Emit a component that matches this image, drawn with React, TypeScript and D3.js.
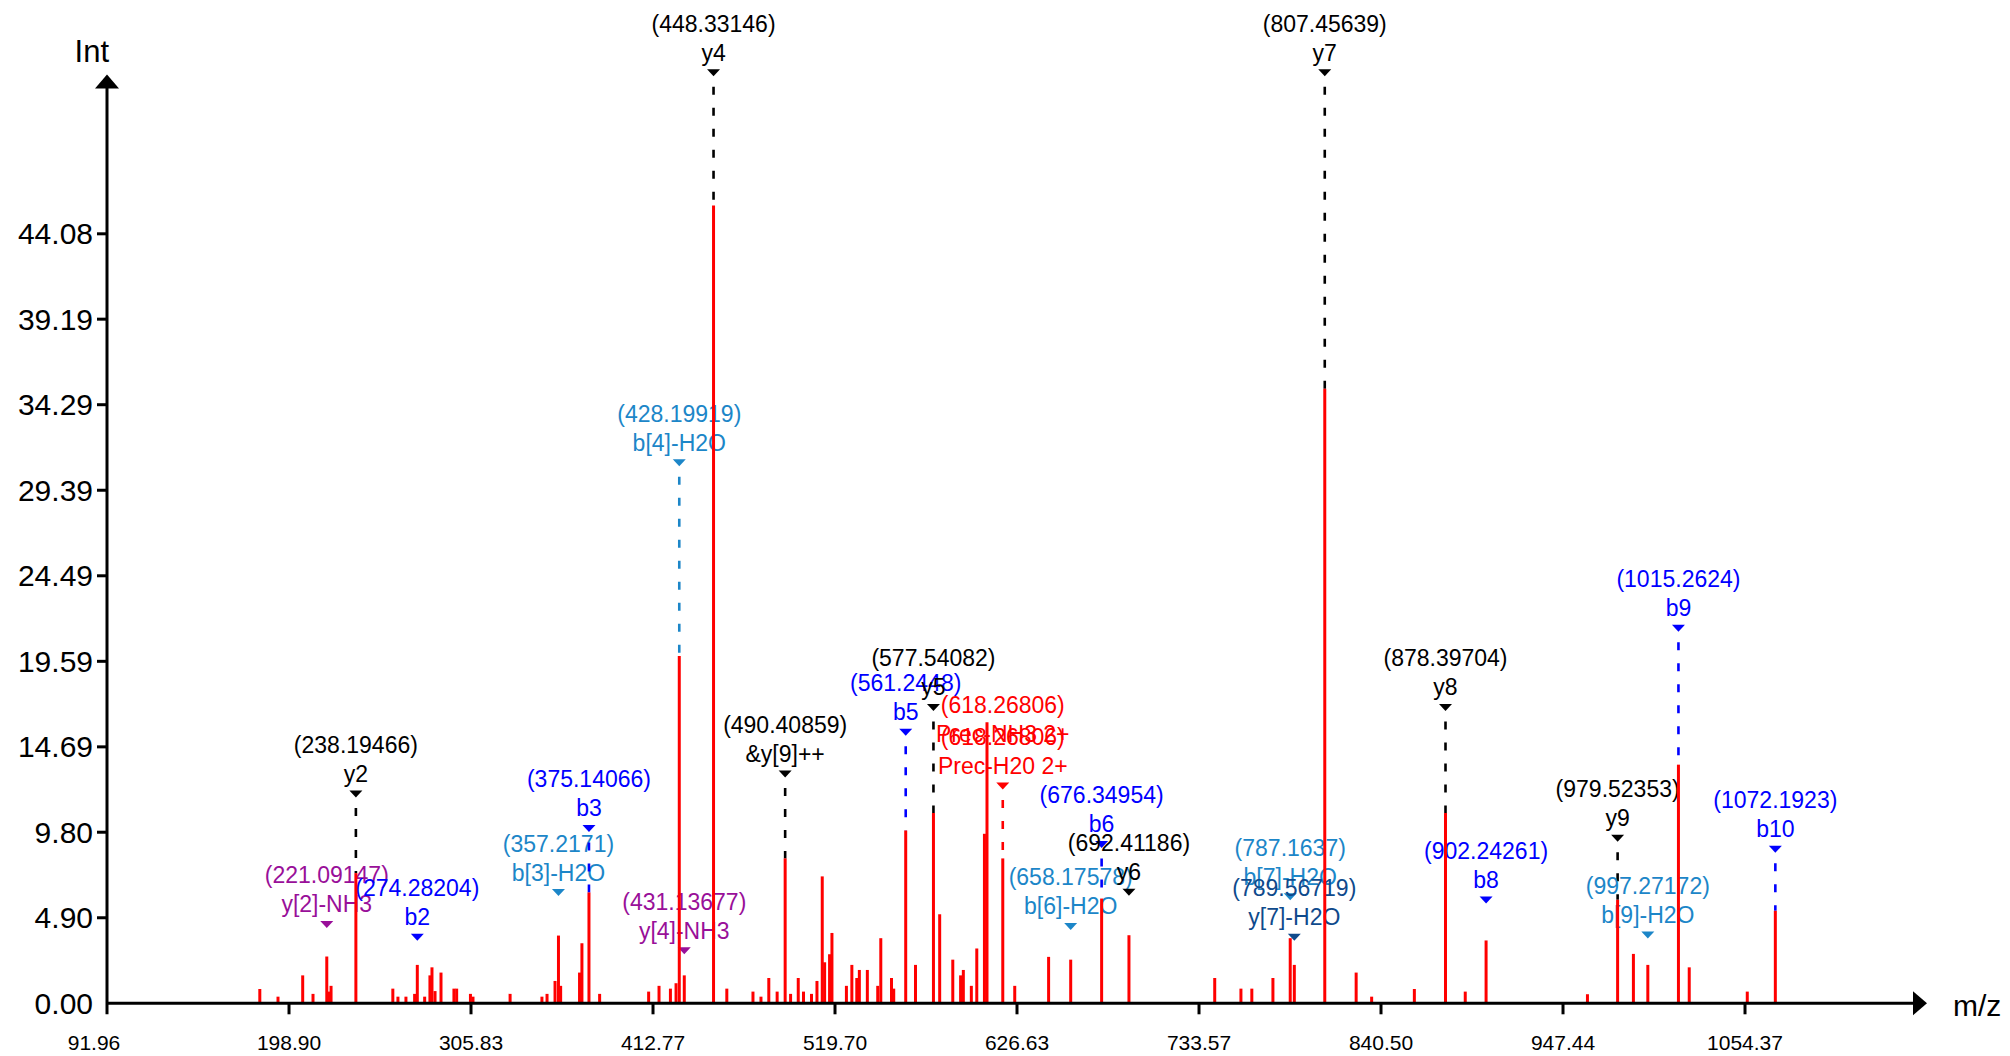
import React from "react";
import * as d3 from "d3";

// ---- data ----
const peakMz = [181.74, 192.43, 206.94, 213.0, 221.09, 222.4, 223.6, 238.19, 259.9, 262.9, 267.6, 272.7, 274.28, 278.6, 281.7, 282.9, 284.7, 288.2, 295.8, 297.4, 305.5, 307.0, 328.8, 347.5, 350.5, 355.2, 357.22, 358.5, 369.6, 371.0, 375.14, 381.4, 410.2, 416.3, 423.0, 426.3, 428.2, 431.14, 448.33, 456.13, 471.5, 476.2, 480.8, 485.7, 490.41, 493.6, 498.1, 501.2, 505.9, 509.1, 512.2, 513.6, 516.5, 517.9, 526.4, 529.6, 532.5, 534.0, 538.7, 544.8, 546.6, 552.9, 554.2, 561.24, 567.0, 577.54, 581.2, 588.9, 593.5, 595.1, 599.8, 603.0, 607.5, 609.0, 618.27, 625.3, 645.2, 658.18, 676.35, 692.41, 742.8, 758.2, 764.6, 777.0, 787.16, 789.57, 807.46, 825.9, 835.0, 860.1, 878.4, 890.0, 902.24, 961.8, 979.52, 988.8, 997.27, 1015.26, 1021.6, 1055.7, 1072.19];
const peakIntensity = [0.82, 0.38, 1.6, 0.54, 2.68, 0.67, 1.0, 7.46, 0.84, 0.38, 0.38, 0.54, 2.2, 0.38, 1.6, 2.06, 0.7, 1.76, 0.84, 0.84, 0.54, 0.38, 0.54, 0.38, 0.54, 1.28, 3.88, 1.0, 1.76, 3.44, 6.35, 0.54, 0.67, 1.0, 0.84, 1.15, 19.9, 1.6, 45.7, 0.84, 0.67, 0.38, 1.45, 0.67, 8.3, 0.54, 1.45, 0.67, 0.54, 1.28, 7.27, 2.35, 2.81, 4.03, 1.0, 2.2, 1.45, 1.91, 1.91, 1.0, 3.73, 1.45, 0.84, 9.9, 2.2, 10.9, 5.1, 2.5, 1.6, 1.91, 1.0, 3.14, 9.71, 16.1, 8.3, 1.0, 2.66, 2.5, 6.0, 3.9, 1.45, 0.84, 0.84, 1.45, 3.73, 2.2, 35.2, 1.76, 0.38, 0.82, 10.9, 0.67, 3.6, 0.52, 5.93, 2.83, 2.2, 13.67, 2.06, 0.67, 5.3];

const annLabel = ["y[2]-NH3", "y2", "b2", "b[3]-H2O", "b3", "b[4]-H2O", "y[4]-NH3", "y4", "&y[9]++", "b5", "y5", "Prec-NH3 2+", "Prec-H20 2+", "b[6]-H2O", "b6", "y6", "b[7]-H2O", "y[7]-H2O", "y7", "y8", "b8", "y9", "b[9]-H2O", "b9", "b10"];
const annMzText = ["221.09147", "238.19466", "274.28204", "357.2171", "375.14066", "428.19919", "431.13677", "448.33146", "490.40859", "561.2448", "577.54082", "618.26806", "618.26806", "658.17578", "676.34954", "692.41186", "787.1637", "789.56719", "807.45639", "878.39704", "902.24261", "979.52353", "997.27172", "1015.2624", "1072.1923"];
const annType = ["yNH3", "y", "b", "bH2O", "b", "bH2O", "yNH3", "y", "y", "b", "y", "prec", "prec", "bH2O", "b", "y", "bH2O", "yH2O", "y", "y", "b", "y", "bH2O", "b", "b"];
// intensity level at which each annotation marker sits
const annMarkerLevel = [4.52, 11.99, 3.78, 6.34, 10.02, 30.96, 3.01, 53.3, 13.13, 15.52, 16.95, 14.3, 12.45, 4.4, 9.1, 6.36, 6.1, 3.78, 53.3, 16.95, 5.92, 9.45, 3.91, 21.48, 8.82];

const xTickLabels = ["91.96", "198.90", "305.83", "412.77", "519.70", "626.63", "733.57", "840.50", "947.44", "1054.37"];
const yTickLabels = ["0.00", "4.90", "9.80", "14.69", "19.59", "24.49", "29.39", "34.29", "39.19", "44.08"];

const typeColor: Record<string, string> = {
  y: "#000000",
  b: "#0000ff",
  bH2O: "#1c86c8",
  yNH3: "#990f99",
  yH2O: "#0f4a8c",
  prec: "#ff0000",
};

const FONT = "'Liberation Sans', Arial, Helvetica, sans-serif";

export default function App() {
  const W = 2010;
  const H = 1056;
  const x = d3.scaleLinear().domain([91.96, 1161.3]).range([107, 1927]);
  const y = d3.scaleLinear().domain([0, 53.2]).range([1003.3, 74.6]);
  const x0 = x(91.96);
  const y0 = y(0);
  const xEnd = x(1161.3);
  const yTop = y(53.2);

  const peaks = peakMz.map((m, i) => ({ mz: m, v: peakIntensity[i] }));

  const anns = annLabel.map((lab, i) => {
    const mz = parseFloat(annMzText[i]);
    let best = peaks[0];
    peaks.forEach((p) => {
      if (Math.abs(p.mz - mz) < Math.abs(best.mz - mz)) best = p;
    });
    const shared = annMzText.some(
      (t, j) => j !== i && t === annMzText[i] && annMarkerLevel[j] < annMarkerLevel[i]
    );
    return {
      lab,
      mzText: annMzText[i],
      mz,
      v: best.v,
      level: annMarkerLevel[i],
      color: typeColor[annType[i]],
      showMarker: !shared,
    };
  });

  return (
    <div style={{ position: "absolute", left: 0, top: 0 }}>
      <svg width={W} height={H} viewBox={`0 0 ${W} ${H}`} style={{ display: "block", background: "#fff" }}>
        <rect x={0} y={0} width={W} height={H} fill="#ffffff" />
        {/* annotations */}
        <g fontFamily={FONT} fontSize={23} textAnchor="middle">
          {anns.map((a, i) => {
            const cx = x(a.mz);
            const ty = y(a.level);
            const top = y(a.v);
            const drawLine = a.showMarker && top - ty > 50;
            return (
              <g key={i}>
                {drawLine && (
                  <line
                    x1={cx}
                    x2={cx}
                    y1={ty + 14}
                    y2={top}
                    stroke={a.color}
                    strokeWidth={2.6}
                    strokeDasharray="8 13"
                  />
                )}
                {a.showMarker && (
                  <path
                    d={`M${cx - 6.5},${ty - 3.5}L${cx + 6.5},${ty - 3.5}L${cx},${ty + 3.5}Z`}
                    fill={a.color}
                  />
                )}
                <text x={cx} y={ty - 41} fill={a.color}>{`(${a.mzText})`}</text>
                <text x={cx} y={ty - 12} fill={a.color}>{a.lab}</text>
              </g>
            );
          })}
        </g>
        {/* peaks */}
        <g stroke="#ff0000" strokeWidth={3}>
          {peaks.map((p, i) => (
            <line key={i} x1={x(p.mz)} x2={x(p.mz)} y1={y0} y2={y(p.v)} />
          ))}
        </g>
        {/* axes */}
        <g stroke="#000" strokeWidth={3}>
          <line x1={x0} x2={x0} y1={y0 + 11} y2={yTop + 10} />
          <line x1={x0} x2={xEnd - 10} y1={y0} y2={y0} />
          {yTickLabels.slice(1).map((t, i) => (
            <line key={"yt" + i} x1={x0 - 10} x2={x0} y1={y(parseFloat(t))} y2={y(parseFloat(t))} />
          ))}
          {xTickLabels.slice(1).map((t, i) => (
            <line key={"xt" + i} x1={x(parseFloat(t))} x2={x(parseFloat(t))} y1={y0} y2={y0 + 11} />
          ))}
        </g>
        <path d={`M${x0},${yTop}L${x0 - 12},${yTop + 14}L${x0 + 12},${yTop + 14}Z`} fill="#000" />
        <path d={`M${xEnd},${y0}L${xEnd - 14},${y0 - 12}L${xEnd - 14},${y0 + 12}Z`} fill="#000" />
        <g fontFamily={FONT}>
          {yTickLabels.map((t, i) => (
            <text key={"yl" + i} x={x0 - 14} y={y(parseFloat(t)) + 10.5} fontSize={30} textAnchor="end" fill="#000">
              {t}
            </text>
          ))}
          {xTickLabels.map((t, i) => (
            <text
              key={"xl" + i}
              x={x(parseFloat(t)) - (i === 0 ? 13 : 0)}
              y={1050}
              fontSize={21}
              textAnchor="middle"
              fill="#000"
            >
              {t}
            </text>
          ))}
          <text x={x0 + 2} y={62} fontSize={31} textAnchor="end" fill="#000">Int</text>
          <text x={1953} y={1016} fontSize={30} textAnchor="start" fill="#000">m/z</text>
        </g>
      </svg>
    </div>
  );
}
